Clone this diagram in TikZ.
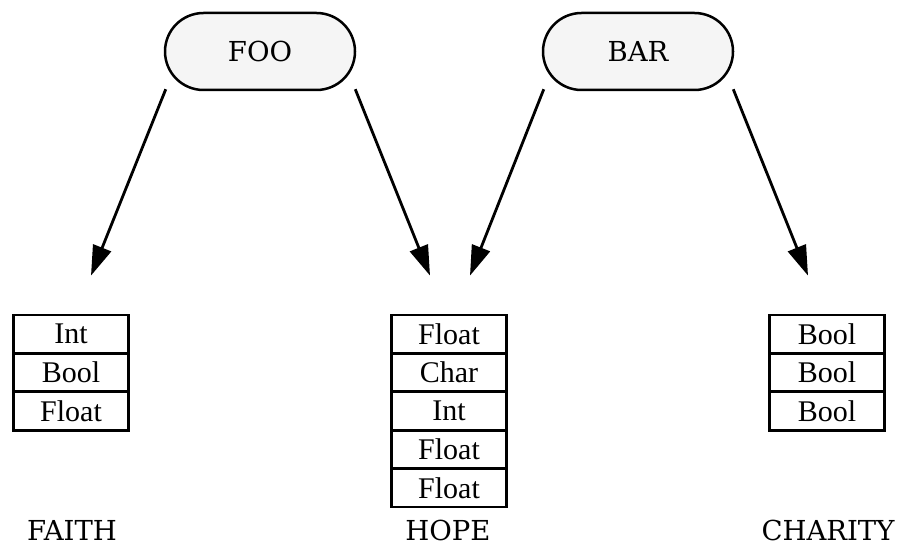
\documentclass[tikz,border=0pt]{standalone}
\usepackage{fontspec}
\setmainfont{Liberation Serif}
\newfontfamily\labelfont{DejaVu Serif}
\usetikzlibrary{arrows.meta,shapes.misc,calc}

\definecolor{pillfill}{HTML}{F5F5F5}

\tikzset{
  pill/.style={rounded rectangle, draw, line width=2.5pt, fill=pillfill,
    minimum width=190pt, minimum height=77pt, inner sep=0pt,
    font=\labelfont\fontsize{27.5}{30}\selectfont},
  cell/.style={rectangle, draw, line width=2.8pt, minimum width=115pt,
    minimum height=38.4pt, inner sep=0pt,
    font=\fontsize{30}{32}\selectfont},
  caption/.style={anchor=base, inner sep=0pt, text depth=0pt,
    font=\labelfont\fontsize{27.5}{30}\selectfont},
  ptr/.style={line width=2.8pt, -{Triangle[length=30pt,width=19pt]}}
}

\begin{document}
\begin{tikzpicture}[x=1pt,y=-1pt]
  \useasboundingbox (0,0) rectangle (901,545);

  % top-level records
  \node[pill] (foo) at (260,51.5) {FOO};
  \node[pill] (bar) at (638,51.5) {BAR};

  % FAITH layout
  \node[cell] (f1) at (71,334.2) {Int};
  \node[cell] (f2) at (71,372.6) {Bool};
  \node[cell] (f3) at (71,411.0) {Float};

  % HOPE layout
  \node[cell] (h1) at (449,334.2) {Float};
  \node[cell] (h2) at (449,372.6) {Char};
  \node[cell] (h3) at (449,411.0) {Int};
  \node[cell] (h4) at (449,449.4) {Float};
  \node[cell] (h5) at (449,487.8) {Float};

  % CHARITY layout
  \node[cell] (c1) at (827,334.2) {Bool};
  \node[cell] (c2) at (827,372.6) {Bool};
  \node[cell] (c3) at (827,411.0) {Bool};

  % captions, centred under their layouts
  \node[caption] (faith)   at (72,540.5)  {FAITH};
  \node[caption] (hope)    at (448,540.5) {HOPE};
  \node[caption] (charity) at (828,540.5) {CHARITY};

  % corners of the record outlines where the pointers leave
  \coordinate (fooL) at ($(foo.west |- foo.south)+(2,-2)$);
  \coordinate (fooR) at ($(foo.east |- foo.south)+(-1,-2)$);
  \coordinate (barL) at ($(bar.west |- bar.south)+(2,-2)$);
  \coordinate (barR) at ($(bar.east |- bar.south)+(-1,-2)$);

  % pointer targets just above each layout
  \coordinate (tf)  at ($(f1.north)+(20,-38)$);
  \coordinate (th1) at ($(h1.north)+(-19,-38)$);
  \coordinate (th2) at ($(h1.north)+(21,-38)$);
  \coordinate (tc)  at ($(c1.north)+(-19,-38)$);

  % pointers
  \draw[ptr] (fooL) -- (tf);
  \draw[ptr] (fooR) -- (th1);
  \draw[ptr] (barL) -- (th2);
  \draw[ptr] (barR) -- (tc);
\end{tikzpicture}
\end{document}
